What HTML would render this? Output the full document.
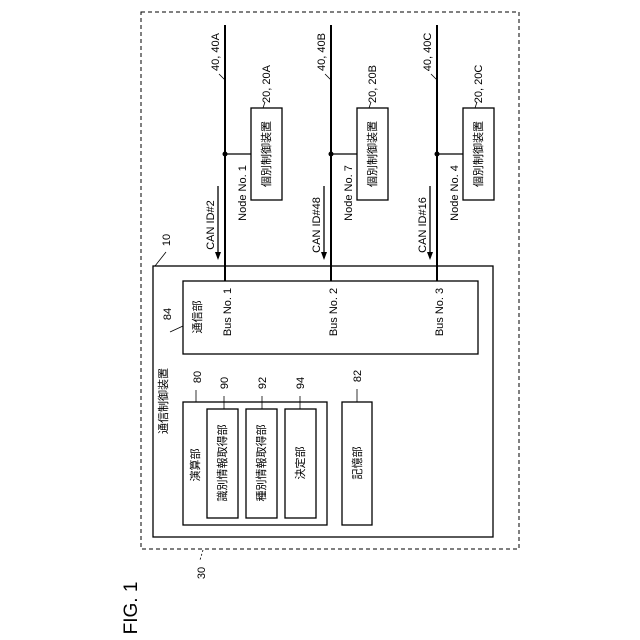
<!DOCTYPE html>
<html><head><meta charset="utf-8"><style>
html,body{margin:0;padding:0;background:#fff;}
svg{display:block;}
text{font-family:"Liberation Sans","Noto Sans CJK JP",sans-serif;fill:#000;}
</style></head><body>
<svg width="640" height="640" viewBox="0 0 640 640" xmlns="http://www.w3.org/2000/svg">
<g fill="none" stroke="#000">
<rect x="141" y="12" width="378" height="537" stroke-dasharray="4,3" stroke-width="1"/>
<rect x="153" y="266" width="340" height="271" stroke-width="1.3"/>
<rect x="183" y="281" width="295" height="73" stroke-width="1.3"/>
<rect x="183" y="402" width="144" height="123" stroke-width="1.3"/>
<rect x="207" y="409" width="31" height="109" stroke-width="1.3"/>
<rect x="246" y="409" width="31" height="109" stroke-width="1.3"/>
<rect x="285" y="409" width="31" height="109" stroke-width="1.3"/>
<rect x="342" y="402" width="30" height="123" stroke-width="1.3"/>
<rect x="251" y="108" width="31" height="92" stroke-width="1.3"/>
<rect x="357" y="108" width="31" height="92" stroke-width="1.3"/>
<rect x="463" y="108" width="31" height="92" stroke-width="1.3"/>
<g stroke-width="2">
<line x1="225" y1="25" x2="225" y2="281"/>
<line x1="331" y1="25" x2="331" y2="281"/>
<line x1="437" y1="25" x2="437" y2="281"/>
</g>
<g stroke-width="1.3">
<line x1="225" y1="154" x2="251" y2="154"/>
<line x1="331" y1="154" x2="357" y2="154"/>
<line x1="437" y1="154" x2="463" y2="154"/>
<line x1="218" y1="186" x2="218" y2="258"/>
<line x1="324" y1="186" x2="324" y2="258"/>
<line x1="430" y1="186" x2="430" y2="258"/>
</g>
<g stroke-width="0.8">
<line x1="225" y1="80" x2="219" y2="74"/>
<line x1="331" y1="80" x2="325" y2="74"/>
<line x1="437" y1="80" x2="431" y2="74"/>
<line x1="263" y1="108" x2="265" y2="102"/>
<line x1="369" y1="108" x2="371" y2="102"/>
<line x1="475" y1="108" x2="477" y2="102"/>
<line x1="155" y1="266" x2="166" y2="252"/>
<line x1="183" y1="326" x2="170" y2="332"/>
<line x1="196" y1="402" x2="196" y2="390"/>
<line x1="224" y1="409" x2="224" y2="396"/>
<line x1="262" y1="409" x2="262" y2="396"/>
<line x1="300" y1="409" x2="300" y2="396"/>
<line x1="357" y1="402" x2="357" y2="389"/>
<line x1="203" y1="550" x2="200" y2="560" stroke-dasharray="2,2"/>
</g>
</g>
<g fill="#000">
<circle cx="225" cy="154" r="2.5"/><circle cx="331" cy="154" r="2.5"/><circle cx="437" cy="154" r="2.5"/>
<polygon points="215,252 221,252 218,260"/>
<polygon points="321,252 327,252 324,260"/>
<polygon points="427,252 433,252 430,260"/>
</g>
<g font-size="11" text-anchor="middle">
<text transform="translate(219,52) rotate(-90)">40, 40A</text>
<text transform="translate(325,52) rotate(-90)">40, 40B</text>
<text transform="translate(431,52) rotate(-90)">40, 40C</text>
<text transform="translate(270,84) rotate(-90)">20, 20A</text>
<text transform="translate(376,84) rotate(-90)">20, 20B</text>
<text transform="translate(482,84) rotate(-90)">20, 20C</text>
<text transform="translate(246,193) rotate(-90)">Node No. 1</text>
<text transform="translate(352,193) rotate(-90)">Node No. 7</text>
<text transform="translate(458,193) rotate(-90)">Node No. 4</text>
<text transform="translate(214,225) rotate(-90)">CAN ID#2</text>
<text transform="translate(320,225) rotate(-90)">CAN ID#48</text>
<text transform="translate(426,225) rotate(-90)">CAN ID#16</text>
<text transform="translate(231,312) rotate(-90)">Bus No. 1</text>
<text transform="translate(337,312) rotate(-90)">Bus No. 2</text>
<text transform="translate(443,312) rotate(-90)">Bus No. 3</text>
<text transform="translate(170,240) rotate(-90)">10</text>
<text transform="translate(171,314) rotate(-90)">84</text>
<text transform="translate(201,377) rotate(-90)">80</text>
<text transform="translate(228,383) rotate(-90)">90</text>
<text transform="translate(266,383) rotate(-90)">92</text>
<text transform="translate(304,383) rotate(-90)">94</text>
<text transform="translate(361,376) rotate(-90)">82</text>
<text transform="translate(205,573) rotate(-90)">30</text>
<text transform="translate(270,154) rotate(-90)">個別制御装置</text>
<text transform="translate(376,154) rotate(-90)">個別制御装置</text>
<text transform="translate(482,154) rotate(-90)">個別制御装置</text>
<text transform="translate(201,317) rotate(-90)">通信部</text>
<text transform="translate(167,401) rotate(-90)">通信制御装置</text>
<text transform="translate(199,465) rotate(-90)">演算部</text>
<text transform="translate(226,463) rotate(-90)">識別情報取得部</text>
<text transform="translate(265,463) rotate(-90)">種別情報取得部</text>
<text transform="translate(304,463) rotate(-90)">決定部</text>
<text transform="translate(361,463) rotate(-90)">記憶部</text>
</g>
<text transform="translate(137,608) rotate(-90)" font-size="19" text-anchor="middle">FIG. 1</text>
</svg>
</body></html>
